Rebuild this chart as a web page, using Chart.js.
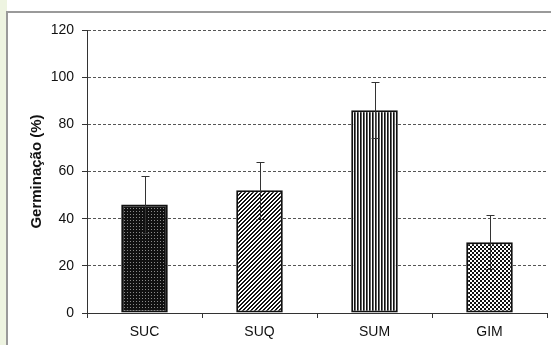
<!DOCTYPE html>
<html>
<head>
<meta charset="utf-8">
<script src="https://cdn.jsdelivr.net/npm/chart.js@4"></script>
<style>
  html, body { margin:0; padding:0; background:#ffffff; }
  #wrap { position:relative; width:551px; height:345px; overflow:hidden; background:#ffffff; }
  #leftStrip { position:absolute; left:0; top:0; width:7px; height:345px; background:#eef4e1; }
  #frame { position:absolute; left:6px; top:11px; width:600px; height:400px; border-left:2px solid #9a9a9a; border-top:2px solid #9a9a9a; background:#ffffff; }
  #c { position:absolute; left:0; top:0; }
</style>
</head>
<body>
<div id="wrap">
  <div id="leftStrip"></div>
  <div id="frame"></div>
  <canvas id="c" width="551" height="345"></canvas>
</div>
<script>
// ---- data ----
const categories = ['SUC', 'SUQ', 'SUM', 'GIM'];
const germination = [46, 52, 86, 30];
const errorValues = [12, 12, 12, 11.5];
const yTickValues = [0, 20, 40, 60, 80, 100, 120];
const yTitle = 'Germinação (%)';

// ---- patterns ----
function makePattern(size, painter) {
  const c = document.createElement('canvas');
  c.width = size; c.height = size;
  const g = c.getContext('2d');
  g.fillStyle = '#ffffff';
  g.fillRect(0, 0, size, size);
  for (let y = 0; y < size; y++) {
    for (let x = 0; x < size; x++) {
      const col = painter(x, y);
      if (col) { g.fillStyle = col; g.fillRect(x, y, 1, 1); }
    }
  }
  return document.getElementById('c').getContext('2d').createPattern(c, 'repeat');
}
const patDots = makePattern(3, (x, y) => (x === 1 && y === 1) ? '#8a8a8a' : '#111111');
const patDiag = makePattern(4, (x, y) => ((x + y) % 4 < 2) ? '#111111' : null);
const patVert = makePattern(3, (x, y) => x === 0 ? '#111111' : (x === 1 ? '#666666' : null));
const patCheck = makePattern(4, (x, y) => ((Math.floor(x / 2) + Math.floor(y / 2)) % 2 === 0) ? '#111111' : null);
const barPatterns = [patDots, patDiag, patVert, patCheck];

const FONT = 'Liberation Sans, Arial, Helvetica, sans-serif';

const errorBarPlugin = {
  id: 'errorBars',
  afterDatasetsDraw(chart) {
    const ctx = chart.ctx;
    const meta = chart.getDatasetMeta(0);
    const yScale = chart.scales.y;
    ctx.save();
    ctx.strokeStyle = '#333333';
    ctx.lineWidth = 1;
    meta.data.forEach((bar, i) => {
      const v = germination[i], e = errorValues[i];
      const x = Math.round(bar.x) + 0.5;
      const yT = Math.round(yScale.getPixelForValue(v + e)) + 0.5;
      const yB = Math.round(yScale.getPixelForValue(v - e)) + 0.5;
      ctx.beginPath();
      ctx.moveTo(x, yT); ctx.lineTo(x, yB);
      ctx.moveTo(x - 4, yT); ctx.lineTo(x + 4, yT);
      ctx.moveTo(x - 4, yB); ctx.lineTo(x + 4, yB);
      ctx.stroke();
    });
    ctx.restore();
  }
};

new Chart(document.getElementById('c'), {
  type: 'bar',
  data: {
    labels: categories,
    datasets: [{
      data: germination,
      backgroundColor: barPatterns,
      borderColor: '#111111',
      borderWidth: 2,
      borderSkipped: false,
      categoryPercentage: 1.0,
      barPercentage: 0.405
    }]
  },
  options: {
    responsive: false,
    animation: false,
    devicePixelRatio: 1,
    layout: { padding: { top: 30, left: 0, right: 4, bottom: 0 } },
    plugins: { legend: { display: false }, tooltip: { enabled: false } },
    scales: {
      x: {
        afterFit(s) { s.height = 32; },
        grid: { display: true, drawOnChartArea: false, drawTicks: true, tickLength: 5, tickColor: '#333333', color: '#333333', offset: true },
        border: { display: true, color: '#333333', width: 1 },
        ticks: { color: '#111111', font: { family: FONT, size: 14 }, padding: 6 }
      },
      y: {
        min: 0, max: 120,
        afterFit(s) { s.width = 87; },
        afterBuildTicks(s) { s.ticks = yTickValues.map(v => ({ value: v })); },
        grid: {
          color: (ctx) => (ctx.tick && ctx.tick.value === 0) ? 'rgba(0,0,0,0)' : '#555555',
          lineWidth: 1, drawTicks: true, tickLength: 5, tickColor: '#333333',
          borderDash: [3, 2]
        },
        border: { display: true, color: '#333333', width: 1, dash: [3, 2] },
        ticks: { color: '#111111', font: { family: FONT, size: 14 }, padding: 8 },
        title: { display: true, text: yTitle, color: '#111111', font: { family: FONT, size: 15, weight: 'bold' }, padding: { top: 28, bottom: 0 } }
      }
    }
  },
  plugins: [errorBarPlugin]
});
</script>
</body>
</html>
